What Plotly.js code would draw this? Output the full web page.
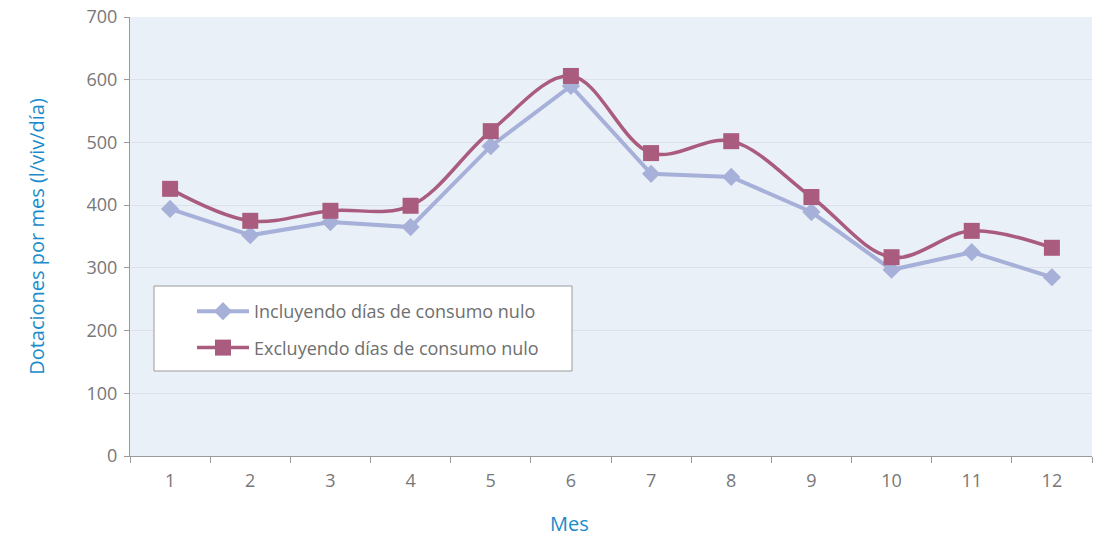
<!DOCTYPE html>
<html>
<head>
<meta charset="utf-8">
<script src="https://cdn.plot.ly/plotly-3.0.1.min.js"></script>
<style>html,body{margin:0;padding:0;background:#fff;}#chart{width:1101px;height:539px;}</style>
</head>
<body>
<div id="chart"></div>
<script>
const meses = ["1","2","3","4","5","6","7","8","9","10","11","12"];
const incluyendo = [394, 352, 373, 365, 494, 590, 450, 445, 389, 297, 325, 285];
const excluyendo = [426, 375, 391, 399, 518, 606, 483, 502, 413, 317, 359, 332];
const nombres = ["Incluyendo días de consumo nulo", "Excluyendo días de consumo nulo"];
const yTicks = [0, 100, 200, 300, 400, 500, 600, 700];

const font = "Open Sans, Noto Sans, sans-serif";

const data = [
  {
    x: meses, y: incluyendo, name: nombres[0], type: "scatter", mode: "lines+markers",
    legendgroup: "a",
    line: {color: "#a6b0d8", width: 4},
    marker: {symbol: "diamond", size: 14, color: "#a6b0d8"}
  },
  {
    x: meses, y: excluyendo, name: nombres[1], type: "scatter", mode: "lines+markers",
    legendgroup: "b",
    line: {color: "#aa5c7f", width: 3.5, shape: "spline", smoothing: 1},
    marker: {symbol: "square", size: 16, color: "#aa5c7f"}
  }
];

const layout = {
  width: 1101, height: 539,
  margin: {l: 130, r: 9, t: 17, b: 83},
  paper_bgcolor: "#ffffff",
  plot_bgcolor: "#eaf0f8",
  font: {family: font, color: "#777777", size: 17},
  showlegend: true,
  legend: {
    x: (192 - 130) / 962, y: (456 - 293) / 439, xanchor: "left", yanchor: "top",
    bgcolor: "rgba(0,0,0,0)", borderwidth: 0,
    font: {size: 18, color: "#6f6f6f", family: font},
    traceorder: "grouped", tracegroupgap: 10, itemwidth: 52
  },
  shapes: [
    {type: "rect", xref: "paper", yref: "paper", layer: "above",
     x0: (154 - 130) / 962, x1: (572 - 130) / 962, y0: (456 - 371) / 439, y1: (456 - 286) / 439,
     fillcolor: "#ffffff", line: {color: "#9a9a9a", width: 1}}
  ],
  xaxis: {
    type: "category", tickson: "boundaries", range: [-0.5, 11.5],
    showgrid: false, zeroline: false,
    showline: true, linecolor: "#9a9a9a", linewidth: 1,
    ticks: "outside", ticklen: 6, tickcolor: "#9a9a9a",
    tickfont: {size: 18, color: "#777777"},
    ticklabelstandoff: 8,
    fixedrange: true
  },
  yaxis: {
    range: [0, 700], tickvals: yTicks, ticktext: yTicks.map(String),
    showgrid: true, gridcolor: "#dde2ea", gridwidth: 1,
    zeroline: false, showline: true, linecolor: "#9a9a9a", linewidth: 1,
    ticks: "outside", ticklen: 5, tickcolor: "#9a9a9a",
    tickfont: {size: 18, color: "#777777"},
    ticklabelstandoff: 3,
    title: {text: "Dotaciones por mes (l/viv/día)", font: {size: 20, color: "#1a8ccb", family: font}, standoff: 36},
    fixedrange: true
  },
  annotations: [
    {text: "Mes", xref: "paper", yref: "paper", x: 0.457, y: 0, yshift: -67, xanchor: "center", yanchor: "middle",
     showarrow: false, font: {size: 20, color: "#1a8ccb", family: font}}
  ]
};

Plotly.newPlot("chart", data, layout, {displayModeBar: false, staticPlot: true});
</script>
</body>
</html>
